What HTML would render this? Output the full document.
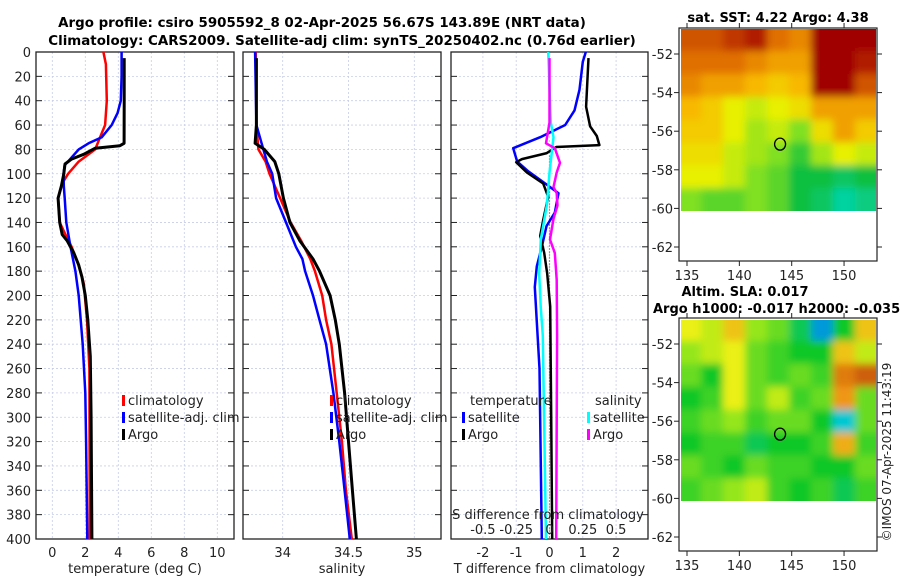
<!DOCTYPE html>
<html><head><meta charset="utf-8"><style>
html,body{margin:0;padding:0;background:#fff;}
svg{display:block;font-family:"DejaVu Sans","Liberation Sans",sans-serif;}
</style></head><body>
<svg id="s" width="900" height="580" viewBox="0 0 900 580" xmlns="http://www.w3.org/2000/svg">
<defs>
<filter id="bl" x="0" y="0" width="1" height="1"><feGaussianBlur stdDeviation="4"/></filter>
<clipPath id="c1"><rect x="681" y="29" width="195" height="182"/></clipPath>
<clipPath id="c2"><rect x="681" y="320" width="195" height="181"/></clipPath>
</defs>
<text x="322" y="27" text-anchor="middle" font-size="13.4" font-weight="bold">Argo profile: csiro 5905592_8 02-Apr-2025 56.67S 143.89E (NRT data)</text>
<text x="342" y="45" text-anchor="middle" font-size="13.4" font-weight="bold">Climatology: CARS2009. Satellite-adj clim: synTS_20250402.nc (0.76d earlier)</text>
<text x="778" y="22" text-anchor="middle" font-size="13" font-weight="bold">sat. SST: 4.22 Argo: 4.38</text>
<text x="745" y="296" text-anchor="middle" font-size="13" font-weight="bold">Altim. SLA: 0.017</text>
<text x="653" y="313" font-size="13" font-weight="bold">Argo h1000: -0.017 h2000: -0.035</text>
<text transform="translate(891,452) rotate(-90)" text-anchor="middle" font-size="12" fill="#222">©IMOS 07-Apr-2025 11:43:19</text>
<g id="g"></g>
</svg>
<script>
// depth grid
const depthTicks=[0,20,40,60,80,100,120,140,160,180,200,220,240,260,280,300,320,340,360,380,400];
// temperature profiles [depth, value]
const tClimD=[0,10,40,60,70,80,90,100,108,120,140,150,160,175,190,220,260,400];
const tClimV=[3.1,3.25,3.3,3.2,2.9,2.6,1.6,0.96,0.6,0.35,0.45,0.8,1.17,1.6,1.9,2.1,2.25,2.27];
const tSatD=[0,20,40,50,60,70,75,80,90,93,100,110,120,140,160,180,200,240,280,320,400];
const tSatV=[4.2,4.2,4.15,3.96,3.6,3.0,2.2,1.6,0.95,0.75,0.68,0.7,0.75,0.85,1.1,1.4,1.6,1.84,2.0,2.05,2.12];
const tArgoD=[5,40,75,77,79,84,88,92,100,110,120,140,150,155,165,175,185,200,220,250,300,400];
const tArgoV=[4.36,4.36,4.35,4.1,2.6,1.9,1.17,0.77,0.7,0.55,0.35,0.45,0.6,0.9,1.3,1.6,1.8,2.0,2.15,2.3,2.35,2.4];
// salinity profiles
const sClimD=[0,60,80,90,100,120,140,155,170,180,200,220,240,280,320,360,400];
const sClimV=[33.795,33.80,33.815,33.87,33.90,33.98,34.06,34.14,34.21,34.245,34.30,34.33,34.37,34.41,34.45,34.48,34.525];
const sSatD=[0,60,75,90,100,120,140,160,170,180,200,220,240,280,320,360,400];
const sSatV=[33.79,33.80,33.84,33.88,33.92,33.95,34.025,34.10,34.15,34.17,34.23,34.28,34.33,34.385,34.43,34.47,34.51];
const sArgoD=[5,60,75,80,90,100,120,140,155,170,180,200,220,240,280,320,360,400];
const sArgoV=[33.80,33.80,33.79,33.86,33.94,33.97,34.005,34.055,34.13,34.23,34.28,34.36,34.40,34.43,34.47,34.50,34.53,34.56];
// differences
const dTSatD=[0,8,31,48,60,70,79,90,98,108,116,132,143,160,176,193,260,400];
const dTSatV=[1.09,1.0,0.9,0.75,0.47,-0.28,-1.09,-0.97,-0.64,-0.13,0.27,0.16,-0.09,-0.23,-0.38,-0.44,-0.3,-0.23];
const dTArgoD=[5,45,61,69,76.5,78,83,88,90.5,99,108,119,138,151,165,182,209,300,400];
const dTArgoV=[1.17,1.1,1.22,1.42,1.5,0.2,-0.08,-0.83,-1.0,-0.68,-0.19,-0.04,-0.19,-0.28,-0.16,-0.07,0.02,0.05,0.08];
const dSSatD=[0,58,70,99,126,154,182,209,233,400];
const dSSatV=[-0.01,0.01,0.03,0,-0.02,-0.065,-0.077,-0.066,-0.05,-0.026];
const dSArgoD=[5,58,75,79,91,99,111,116,126,137,154,165,187,233,400];
const dSArgoV=[0,0,-0.026,0.04,0.079,0.054,0.03,0.054,0.06,0.03,0.004,0.04,0.054,0.057,0.05];
const tTicks=[0,2,4,6,8,10];
const sTicks=[34,34.5,35];
const sTickLbl=['34','34.5','35'];
const dTTicks=[-2,-1,0,1,2];
const dSTicks=[-0.5,-0.25,0,0.25,0.5];
const latTicks=[-52,-54,-56,-58,-60,-62];
const lonTicks=[135,140,145,150];
// map fields (rows north->south, cols west->east), normalized 0..1
const sstGrid=[
[0.85,0.85,0.9,0.95,0.8,0.75,1,1,1],
[0.8,0.8,0.8,0.75,0.7,0.7,1,1,0.95],
[0.75,0.7,0.7,0.65,0.6,0.65,1,1,0.85],
[0.65,0.6,0.5,0.45,0.5,0.55,0.7,0.7,0.7],
[0.6,0.6,0.5,0.4,0.45,0.35,0.55,0.7,0.6],
[0.55,0.55,0.45,0.4,0.35,0.25,0.4,0.5,0.45],
[0.5,0.5,0.45,0.35,0.3,0.2,0.2,0.15,0.2],
[0.35,0.3,0.3,0.35,0.3,0.2,0.15,0.05,0.1]];
const slaGrid=[
[0.6,0.55,0.7,0.5,0.45,0.3,0.1,0.35,0.7],
[0.5,0.55,0.6,0.45,0.4,0.35,0.35,0.7,0.55],
[0.45,0.35,0.6,0.45,0.4,0.45,0.4,0.85,0.9],
[0.35,0.4,0.6,0.45,0.55,0.4,0.45,0.8,0.45],
[0.4,0.45,0.5,0.4,0.45,0.45,0.35,0.15,0.45],
[0.35,0.4,0.4,0.3,0.35,0.35,0.4,0.75,0.4],
[0.45,0.4,0.35,0.45,0.4,0.4,0.35,0.35,0.45],
[0.4,0.45,0.5,0.55,0.4,0.35,0.4,0.3,0.4]];
const argoLon=143.89, argoLat=-56.67;

const NS='http://www.w3.org/2000/svg';
const G=document.getElementById('g');
function el(t,a,p){const e=document.createElementNS(NS,t);for(const k in a)e.setAttribute(k,a[k]);(p||G).appendChild(e);return e;}
function txt(x,y,s,a,p){const e=el('text',Object.assign({x:x,y:y,'font-size':12.5,fill:'#222'},a||{}),p);e.textContent=s;return e;}
const y0=52,y1=539;
const yD=d=>y0+(d/400)*(y1-y0);
function lin(d0,d1,r0,r1){return v=>r0+(v-d0)/(d1-d0)*(r1-r0);}
const panels=[
 {x0:36,x1:234,name:'temperature-panel',sx:lin(0,10,52.3,217.3),ticks:tTicks,lbl:tTicks.map(String),xl:'temperature (deg C)',depthLabels:true},
 {x0:243,x1:441,name:'salinity-panel',sx:lin(34,35,282.7,414.3),ticks:sTicks,lbl:sTickLbl,xl:'salinity'},
 {x0:451,x1:648,name:'difference-panel',sx:lin(0,1,549.5,582.8),ticks:dTTicks,lbl:dTTicks.map(String),xl:'T difference from climatology'}
];
panels.forEach(P=>{
 const g=el('g',{});
 
 
 depthTicks.forEach(d=>{
  const y=yD(d);
  if(d>0&&d<400){const l=el('line',{x1:P.x0,x2:P.x1,y1:y,y2:y,stroke:'#c8cde8','stroke-width':0.8,'stroke-dasharray':'2,2'},g);}
  el('line',{x1:P.x0,x2:P.x0+6,y1:y,y2:y,stroke:'#222'},g);
  el('line',{x1:P.x1-6,x2:P.x1,y1:y,y2:y,stroke:'#222'},g);
  if(P.depthLabels){const t=txt(P.x0-5,y+5,String(d),{'text-anchor':'end','font-size':13},g);}
 });
 P.ticks.forEach((v,i)=>{
  const x=P.sx(v);
  const l=el('line',{x1:x,x2:x,y1:y0,y2:y1,stroke:'#c8cde8','stroke-width':0.8,'stroke-dasharray':'2,2'},g);
  
  
  const t=txt(x,y1+18,P.lbl[i],{'text-anchor':'middle','font-size':13},g);
  
  
 });
 el('rect',{x:P.x0,y:y0,width:P.x1-P.x0,height:y1-y0,fill:'none',stroke:'#222','stroke-width':1.3},g);
 const xl=txt((P.x0+P.x1)/2,y1+34,P.xl,{'text-anchor':'middle','font-size':13},g);
 
 
});
function series(D,V,sx,col,w,name,dash){
 const pts=D.map((d,i)=>sx(V[i]).toFixed(1)+','+yD(d).toFixed(1)).join(' ');
 const p=el('polyline',{points:pts,fill:'none',stroke:col,'stroke-width':w,'stroke-linejoin':'round'});
 if(dash)p.setAttribute('stroke-dasharray',dash);
 
 
}
const sxT=panels[0].sx, sxS=panels[1].sx, sxD=panels[2].sx, sxDS=v=>sxD(v*4);
series(tClimD,tClimV,sxT,'#f00',2.5,'temp-climatology-line');
series(tSatD,tSatV,sxT,'#00f',2.5,'temp-satellite-line');
series(tArgoD,tArgoV,sxT,'#000',3,'temp-argo-line');
series(sClimD,sClimV,sxS,'#f00',2.5,'sal-climatology-line');
series(sSatD,sSatV,sxS,'#00f',2.5,'sal-satellite-line');
series(sArgoD,sArgoV,sxS,'#000',3,'sal-argo-line');
series([85,400],[0,0],sxD,'#555',1.2,'zero-line','1,2');
series(dTSatD,dTSatV,sxD,'#00f',2.5,'dT-satellite-line');
series(dTArgoD,dTArgoV,sxD,'#000',2.5,'dT-argo-line');
series(dSSatD,dSSatV,sxDS,'#0ff',2.5,'dS-satellite-line');
series(dSArgoD,dSArgoV,sxDS,'#f0f',2.5,'dS-argo-line');
// S axis labels inside diff panel
const st=txt(548,519,'S difference from climatology',{'text-anchor':'middle','font-size':13});


dSTicks.forEach(v=>{const t=txt(sxDS(v),534,String(v),{'text-anchor':'middle','font-size':13});
 
 });
// legends
function legend(x,y,col,label,name){
 const g=el('g',{});
 
 
 if(col)el('rect',{x:x,y:y-10,width:3,height:11,fill:col},g);
 txt(x+(col?6:0),y,label,{'font-size':13},g);
}
[[330,'sal'],[122,'temp']].forEach(([x,p])=>{
 legend(x,405,'#f00','climatology',p+'-legend-climatology');
 legend(x,422,'#00f','satellite-adj. clim',p+'-legend-satellite');
 legend(x,439,'#000','Argo',p+'-legend-argo');
});
legend(470,405,null,'temperature','dT-legend-header');
legend(462,422,'#00f','satellite','dT-legend-satellite');
legend(462,439,'#000','Argo','dT-legend-argo');
legend(595,405,null,'salinity','dS-legend-header');
legend(587,422,'#0ff','satellite','dS-legend-satellite');
legend(587,439,'#f0f','Argo','dS-legend-argo');
// maps
function cmap(v,stops){
 for(let i=1;i<stops.length;i++){if(v<=stops[i][0]){const a=stops[i-1],b=stops[i],t=(v-a[0])/(b[0]-a[0]);
  return 'rgb('+[1,2,3].map(k=>Math.round(a[k]+(b[k]-a[k])*t)).join(',')+')';}}
 const l=stops[stops.length-1];return 'rgb('+l[1]+','+l[2]+','+l[3]+')';
}
const sstStops=[[0,0,216,192],[0.2,16,192,64],[0.35,128,224,32],[0.5,232,240,0],[0.65,248,184,0],[0.8,224,112,0],[1,160,0,0]];
const slaStops=[[0,0,60,230],[0.15,0,200,210],[0.35,16,200,40],[0.5,150,230,30],[0.6,235,240,20],[0.8,240,150,20],[1,170,40,0]];
function map(top,boxBot,dataBot,grid,stops,clip,name){
 const g=el('g',{});
 
 
 const x0=679,x1=877;
 const ly=lat=>top+26+(-52-lat)*19.3;
 const lx=lon=>687+(lon-135)*10.47;
 const fg=el('g',{'clip-path':'url(#'+clip+')'},g);
 const inner=el('g',{filter:'url(#bl)'},fg);
 const rows=grid.length,cols=grid[0].length,w=(x1-x0)/cols,h=(dataBot-top)/rows;
 el('rect',{x:x0-20,y:top-20,width:240,height:dataBot-top+40,fill:cmap(grid[rows-1][0],stops)},inner);
 grid.forEach((row,r)=>row.forEach((v,c)=>{
  const rc=el('rect',{x:x0+c*w-(c==0?20:0),y:top+r*h-(r==0?20:0),width:w+(c==0||c==cols-1?20:0)+0.5,height:h+(r==0||r==rows-1?20:0)+0.5,fill:cmap(v,stops)},inner);
  
  
 }));
 el('rect',{x:x0,y:top,width:x1-x0,height:boxBot-top,fill:'none',stroke:'#222','stroke-width':1.2},g);
 latTicks.forEach(l=>{const y=ly(l);el('line',{x1:x0-5,x2:x0,y1:y,y2:y,stroke:'#222'},g);el('line',{x1:x1,x2:x1+5,y1:y,y2:y,stroke:'#222'},g);
  const t=txt(x0-6,y+5,String(l),{'text-anchor':'end','font-size':13},g);
  
  });
 lonTicks.forEach(l=>{const x=lx(l);el('line',{x1:x,x2:x,y1:boxBot,y2:boxBot+5,stroke:'#222'},g);el('line',{x1:x,x2:x,y1:top-5,y2:top,stroke:'#222'},g);
  const t=txt(x,boxBot+19,String(l),{'text-anchor':'middle','font-size':13},g);
  
  });
 const c=el('ellipse',{cx:lx(argoLon),cy:ly(argoLat),rx:5.5,ry:6,fill:'none',stroke:'#000','stroke-width':1.3},g);
 
 
}
map(28,261,211,sstGrid,sstStops,'c1','sst-map');
map(318,551,501,slaGrid,slaStops,'c2','sla-map');
</script>
</body></html>
